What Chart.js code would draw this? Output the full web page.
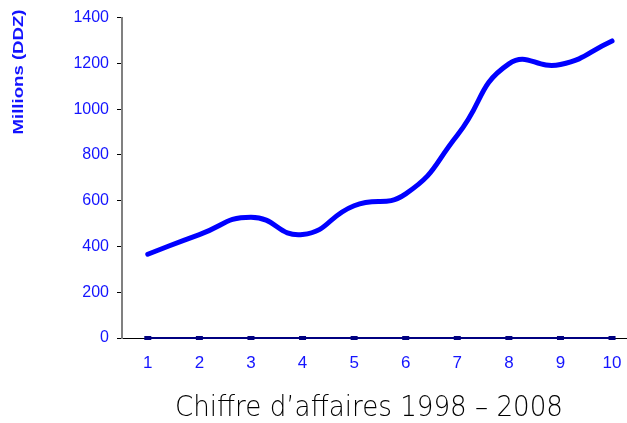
<!DOCTYPE html>
<html>
<head>
<meta charset="utf-8">
<script src="https://cdn.jsdelivr.net/npm/chart.js@4"></script>
<style>
  html, body { margin: 0; padding: 0; background: #fff; overflow: hidden; }
</style>
</head>
<body>
<canvas id="myChart" width="627" height="423"></canvas>
<script>
// values (millions DDZ)
const xLabels = [1, 2, 3, 4, 5, 6, 7, 8, 9, 10];
const turnover = [366, 452, 528, 452, 578, 630, 886, 1198, 1195, 1298];
const baseline = [0, 0, 0, 0, 0, 0, 0, 0, 0, 0];
const yTitle = 'Millions (DDZ)';
const chartTitle = 'Chiffre d\u2019affaires 1998 \u2013 2008';

const blue = '#1414ff';

// axis title + bottom caption drawn by hand, Excel puts them off-center
const captions = {
  id: 'captions',
  afterDraw: (chart) => {
    const { ctx } = chart;
    ctx.save();
    ctx.fillStyle = blue;
    ctx.font = 'bold 15px "Liberation Sans", Arial, sans-serif';
    ctx.textAlign = 'center';
    ctx.textBaseline = 'middle';
    ctx.translate(19, 72);
    ctx.rotate(-Math.PI / 2);
    let w = ctx.measureText(yTitle).width;
    ctx.scale(125 / w, 1);
    ctx.fillText(yTitle, 0, 0);
    ctx.restore();

    ctx.save();
    ctx.fillStyle = '#000';
    ctx.font = '200 29px "DejaVu Sans", sans-serif';
    ctx.textAlign = 'center';
    ctx.textBaseline = 'alphabetic';
    ctx.translate(369, 416);
    w = ctx.measureText(chartTitle).width;
    ctx.scale(388 / w, 1);
    ctx.fillText(chartTitle, 0, 0);
    ctx.restore();
  }
};

const ctx = document.getElementById('myChart').getContext('2d');
new Chart(ctx, {
  type: 'line',
  data: {
    datasets: [
      {
        label: 'CA',
        data: xLabels.map((x, i) => ({ x: x, y: turnover[i] })),
        borderColor: '#0000ff',
        borderWidth: 5,
        borderCapStyle: 'round',
        tension: 0.5,
        pointRadius: 0,
        fill: false,
        order: 1
      },
      {
        label: 'base',
        data: xLabels.map((x, i) => ({ x: x, y: baseline[i] })),
        borderColor: '#000080',
        backgroundColor: '#000080',
        borderWidth: 2,
        pointStyle: 'line',
        pointRadius: 3.5,
        pointBorderWidth: 4,
        pointBorderColor: '#000080',
        clip: false,
        order: 2
      }
    ]
  },
  options: {
    responsive: false,
    animation: false,
    layout: { autoPadding: false, padding: { left: 0, right: 0, top: 13, bottom: 0 } },
    plugins: {
      legend: { display: false },
      tooltip: { enabled: false }
    },
    scales: {
      x: {
        type: 'linear',
        min: 0.5,
        max: 10.29,
        afterBuildTicks: (axis) => {
          axis.ticks = xLabels.map(v => ({ value: v }));
        },
        afterFit: (axis) => {
          axis.height = 85;
          axis.paddingLeft = 0;
          axis.paddingRight = 0;
        },
        grid: { display: false, drawTicks: false },
        border: { display: true, color: '#000', width: 1 },
        ticks: {
          color: blue,
          padding: 15,
          maxRotation: 0,
          callback: (v) => String(v),
          font: { family: '"Liberation Sans", Arial, sans-serif', size: 17 }
        }
      },
      y: {
        min: 0,
        max: 1400,
        afterFit: (axis) => { axis.width = 122; },
        grid: {
          drawOnChartArea: false,
          drawTicks: true,
          tickLength: 5,
          color: '#000'
        },
        border: { display: true, color: '#808080', width: 2 },
        ticks: {
          stepSize: 200,
          color: blue,
          padding: 8,
          callback: (v) => String(v),
          font: { family: '"Liberation Sans", Arial, sans-serif', size: 16 }
        }
      }
    }
  },
  plugins: [captions]
});
</script>
</body>
</html>
